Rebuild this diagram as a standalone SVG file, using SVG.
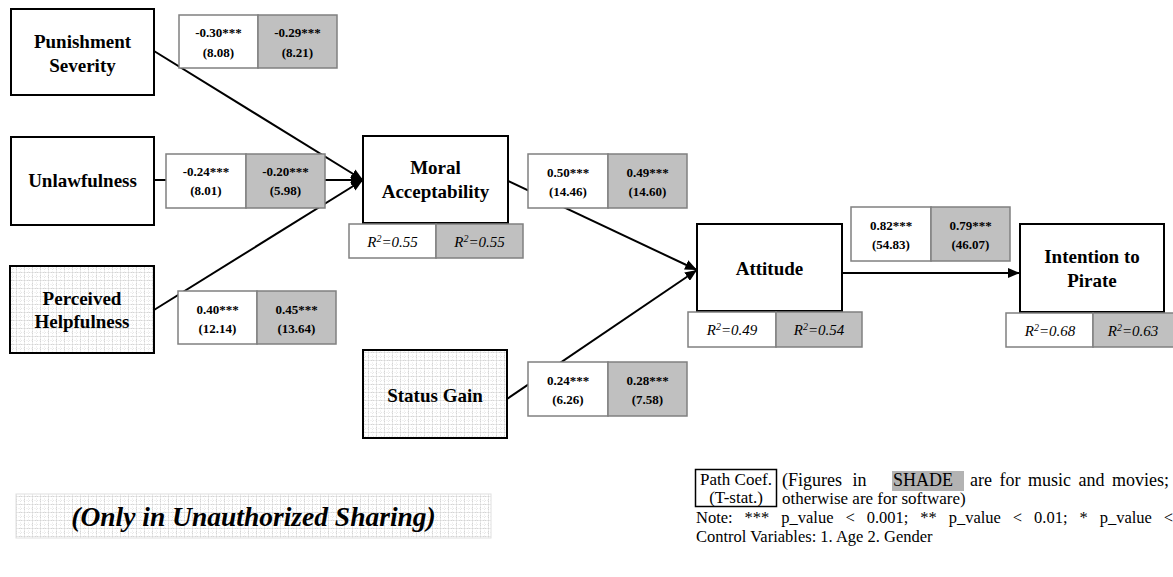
<svg xmlns="http://www.w3.org/2000/svg" width="1173" height="577" viewBox="0 0 1173 577">
  <defs>
    <!-- light dotted grid used for the shaded construct boxes -->
    <pattern id="grid" width="8" height="8" patternUnits="userSpaceOnUse">
      <rect width="8" height="8" fill="#ffffff"/>
      <path d="M0 0.5H8M0.5 0V8" stroke="#d4d4d4" stroke-width="1" stroke-dasharray="1.5 1"/>
      <path d="M0 4.5H8M4.5 0V8" stroke="#e6e6e6" stroke-width="1" stroke-dasharray="1 1.5"/>
    </pattern>
    <marker id="arrow" markerWidth="12" markerHeight="10" refX="12" refY="5" orient="auto" markerUnits="userSpaceOnUse">
      <path d="M0 0L12 5L0 10z" fill="#000"/>
    </marker>
  </defs>
  <style>
    .node { fill: #fff; stroke: #000; stroke-width: 2; }
    .node.pat { fill: url(#grid); }
    .lbl { font-family: "Liberation Serif", "Times New Roman", serif; font-weight: bold; font-size: 19px; text-anchor: middle; fill: #000; }
    .cell { stroke: #808080; stroke-width: 1.5; }
    .w { fill: #fff; }
    .g { fill: #c0c0c0; }
    .coef { font-family: "Liberation Serif", "Times New Roman", serif; font-weight: bold; font-size: 13px; text-anchor: middle; fill: #000; }
    .r2 { font-family: "Liberation Serif", "Times New Roman", serif; font-style: italic; font-size: 15px; text-anchor: middle; fill: #000; }
    .note { font-family: "Liberation Serif", "Times New Roman", serif; font-size: 16.5px; fill: #000; }
    .note.big { font-size: 18px; }
    .note.mid { font-size: 17px; }
    .edge { stroke: #000; stroke-width: 2; fill: none; marker-end: url(#arrow); }
  </style>

  <rect width="1173" height="577" fill="#fff"/>

  <!-- paths between constructs -->
  <g id="connectors">
    <line class="edge" x1="154" y1="51" x2="363" y2="180"/>
    <line class="edge" x1="154" y1="180" x2="363" y2="180"/>
    <line class="edge" x1="154" y1="310" x2="363" y2="180"/>
    <line class="edge" x1="508" y1="181" x2="697" y2="270"/>
    <line class="edge" x1="507" y1="399" x2="697" y2="270"/>
    <line class="edge" x1="842" y1="273" x2="1020" y2="273"/>
  </g>

  <!-- constructs -->
  <g id="punishment-severity">
    <rect class="node" x="11" y="9" width="143" height="86"/>
    <text class="lbl" x="82.5" y="48">Punishment</text>
    <text class="lbl" x="82.5" y="72">Severity</text>
  </g>
  <g id="unlawfulness">
    <rect class="node" x="11" y="137" width="143" height="88"/>
    <text class="lbl" x="82.5" y="187">Unlawfulness</text>
  </g>
  <g id="perceived-helpfulness">
    <rect class="node pat" x="10" y="266" width="144" height="87"/>
    <text class="lbl" x="82" y="305">Perceived</text>
    <text class="lbl" x="82" y="328">Helpfulness</text>
  </g>
  <g id="moral-acceptability">
    <rect class="node" x="363" y="136" width="145" height="87"/>
    <text class="lbl" x="435.5" y="174">Moral</text>
    <text class="lbl" x="435.5" y="198">Acceptability</text>
  </g>
  <g id="status-gain">
    <rect class="node pat" x="363" y="350" width="144" height="88"/>
    <text class="lbl" x="435" y="402">Status Gain</text>
  </g>
  <g id="attitude">
    <rect class="node" x="697" y="224" width="145" height="87"/>
    <text class="lbl" x="769.5" y="275">Attitude</text>
  </g>
  <g id="intention-to-pirate">
    <rect class="node" x="1020" y="224" width="144" height="88"/>
    <text class="lbl" x="1092" y="263">Intention to</text>
    <text class="lbl" x="1092" y="287">Pirate</text>
  </g>

  <!-- path coefficients (software | music and movies) -->
  <g id="coef-punishment">
    <rect class="cell w" x="179" y="15" width="79" height="53"/>
    <rect class="cell g" x="258" y="15" width="79" height="53"/>
    <text class="coef" x="218.5" y="37">-0.30***</text>
    <text class="coef" x="218.5" y="57">(8.08)</text>
    <text class="coef" x="297.5" y="37">-0.29***</text>
    <text class="coef" x="297.5" y="57">(8.21)</text>
  </g>
  <g id="coef-unlawfulness">
    <rect class="cell w" x="166" y="154" width="80" height="54"/>
    <rect class="cell g" x="246" y="154" width="79" height="54"/>
    <text class="coef" x="206" y="176">-0.24***</text>
    <text class="coef" x="206" y="195">(8.01)</text>
    <text class="coef" x="285.5" y="176">-0.20***</text>
    <text class="coef" x="285.5" y="195">(5.98)</text>
  </g>
  <g id="coef-helpfulness">
    <rect class="cell w" x="178" y="291" width="79" height="53"/>
    <rect class="cell g" x="257" y="291" width="79" height="53"/>
    <text class="coef" x="217.5" y="314">0.40***</text>
    <text class="coef" x="217.5" y="333">(12.14)</text>
    <text class="coef" x="296.5" y="314">0.45***</text>
    <text class="coef" x="296.5" y="333">(13.64)</text>
  </g>
  <g id="coef-moral">
    <rect class="cell w" x="528" y="154" width="80" height="54"/>
    <rect class="cell g" x="608" y="154" width="79" height="54"/>
    <text class="coef" x="568" y="177">0.50***</text>
    <text class="coef" x="568" y="196">(14.46)</text>
    <text class="coef" x="647.5" y="177">0.49***</text>
    <text class="coef" x="647.5" y="196">(14.60)</text>
  </g>
  <g id="coef-status">
    <rect class="cell w" x="528" y="362" width="80" height="54"/>
    <rect class="cell g" x="608" y="362" width="79" height="54"/>
    <text class="coef" x="568" y="385">0.24***</text>
    <text class="coef" x="568" y="404">(6.26)</text>
    <text class="coef" x="647.5" y="385">0.28***</text>
    <text class="coef" x="647.5" y="404">(7.58)</text>
  </g>
  <g id="coef-attitude">
    <rect class="cell w" x="851" y="207" width="80" height="54"/>
    <rect class="cell g" x="931" y="207" width="79" height="54"/>
    <text class="coef" x="891" y="230">0.82***</text>
    <text class="coef" x="891" y="249">(54.83)</text>
    <text class="coef" x="970.5" y="230">0.79***</text>
    <text class="coef" x="970.5" y="249">(46.07)</text>
  </g>

  <!-- explained variance -->
  <g id="r2-moral">
    <rect class="cell w" x="349" y="224" width="87" height="34"/>
    <rect class="cell g" x="436" y="224" width="87" height="34"/>
    <text class="r2" x="392.5" y="247">R<tspan dy="-5" font-size="10">2</tspan><tspan dy="5">=0.55</tspan></text>
    <text class="r2" x="479.5" y="247">R<tspan dy="-5" font-size="10">2</tspan><tspan dy="5">=0.55</tspan></text>
  </g>
  <g id="r2-attitude">
    <rect class="cell w" x="688" y="312" width="88" height="35"/>
    <rect class="cell g" x="776" y="312" width="86" height="35"/>
    <text class="r2" x="732" y="335">R<tspan dy="-5" font-size="10">2</tspan><tspan dy="5">=0.49</tspan></text>
    <text class="r2" x="819" y="335">R<tspan dy="-5" font-size="10">2</tspan><tspan dy="5">=0.54</tspan></text>
  </g>
  <g id="r2-intention">
    <rect class="cell w" x="1006" y="313" width="87" height="34"/>
    <rect class="cell g" x="1093" y="313" width="87" height="34"/>
    <text class="r2" x="1050" y="336">R<tspan dy="-5" font-size="10">2</tspan><tspan dy="5">=0.68</tspan></text>
    <text class="r2" x="1133" y="336">R<tspan dy="-5" font-size="10">2</tspan><tspan dy="5">=0.63</tspan></text>
  </g>

  <!-- scope caption -->
  <g id="scope-caption">
    <rect x="16" y="494" width="475" height="44" fill="url(#grid)" stroke="#e0e0e0" stroke-width="1"/>
    <text x="253.5" y="526" font-family="'Liberation Serif', 'Times New Roman', serif" font-weight="bold" font-style="italic" font-size="27.5" text-anchor="middle">(Only in Unauthorized Sharing)</text>
  </g>

  <!-- legend and notes -->
  <g id="legend">
    <rect x="695.5" y="469.5" width="81" height="37" fill="#fff" stroke="#000" stroke-width="1.5"/>
    <text class="note mid" x="736" y="485" text-anchor="middle">Path Coef.</text>
    <text class="note mid" x="736" y="503" text-anchor="middle">(T-stat.)</text>
    <rect x="892" y="471" width="72" height="20" fill="#b3b3b3"/>
    <text class="note big" y="486"><tspan x="782" word-spacing="6">(Figures in</tspan><tspan x="893">SHADE</tspan><tspan x="970" word-spacing="3">are for music and movies;</tspan></text>
    <text class="note mid" x="782" y="504">otherwise are for software)</text>
    <text class="note" x="696" y="523" word-spacing="7.8">Note: *** p_value &lt; 0.001; ** p_value &lt; 0.01; * p_value &lt;</text>
    <text class="note" x="696" y="542">Control Variables: 1. Age 2. Gender</text>
  </g>
</svg>
